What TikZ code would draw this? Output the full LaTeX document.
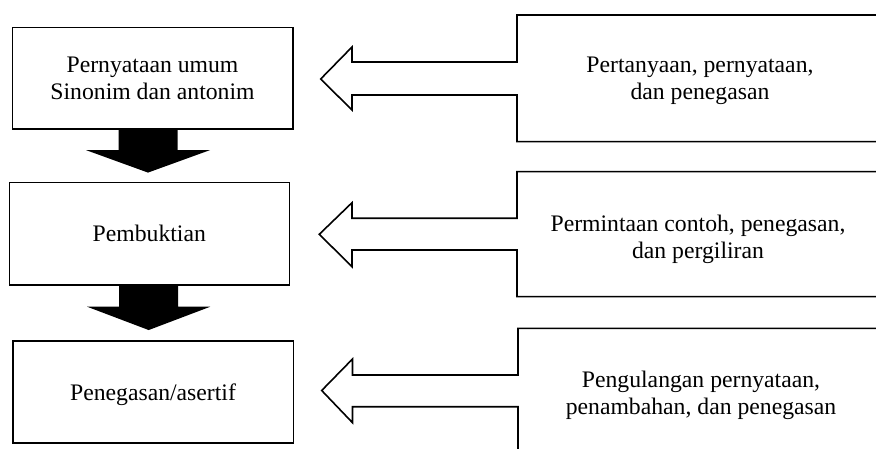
\documentclass[tikz,border=0pt]{standalone}
\usepackage{fontspec}
\setmainfont{Liberation Serif}
\usetikzlibrary{calc}
\begin{document}
\begin{tikzpicture}[x=1pt,y=-1pt,line width=1.6pt,
  txt/.style={font=\fontsize{23.7}{27.3}\selectfont},
  lbox/.style={txt,draw=black,inner sep=0pt,align=center,
    minimum width=280.4pt,minimum height=101.6pt},
  rtext/.style={txt,inner sep=0pt,align=center},
  blockarrow/.style={fill=black,draw=none},
  openarrow/.style={draw=black,line join=miter,fill=none}]
\useasboundingbox (0,0) rectangle (876,449);

% left boxes
\node[lbox] (b1) at (152.5,78.5) {Pernyataan umum\\Sinonim dan antonim};
\node[lbox,minimum width=280pt,minimum height=102.3pt] (b2) at (149.3,233.8) {Pembuktian};
\node[lbox,minimum width=280.6pt,minimum height=102pt,text depth=0pt] (b3) at (153,391.7) {Penegasan/asertif};

% black block arrows between boxes
\coordinate (ax1) at (148,0);
\coordinate (ax2) at (148.7,0);
\fill[blockarrow] (ax1 |- b1.south) ++(-29.5,0) -- ++(0,20) -- ++(-32.5,0)
  -- ++(62,22.5) -- ++(62,-22.5) -- ++(-32.5,0) -- ++(0,-20) -- cycle;
\fill[blockarrow] (ax2 |- b2.south) ++(-29.5,0) -- ++(0,21) -- ++(-32,0)
  -- ++(61.5,23.3) -- ++(61.5,-23.3) -- ++(-32,0) -- ++(0,-21) -- cycle;

% right fused box + open arrow shapes
\draw[openarrow] (880,15) -- (517,15) -- (517,62) -- (352,62) -- (352,47)
  -- (320.7,79) -- (352,110) -- (352,95) -- (517,95) -- (517,141.7) -- (880,141.7);
\draw[openarrow] (880,171.7) -- (517,171.7) -- (517,218.3) -- (352,218.3) -- (352,202.7)
  -- (319.3,234.3) -- (352,266.7) -- (352,250) -- (517,250) -- (517,296.7) -- (880,296.7);
\draw[openarrow] (880,328.3) -- (518,328.3) -- (518,375) -- (352.5,375) -- (352.5,359)
  -- (321.7,390.5) -- (352.5,422.7) -- (352.5,406.7) -- (518,406.7) -- (518,460);

% right texts
\node[rtext] (t1) at (700,81.1) {Pertanyaan, pernyataan,\\dan penegasan};
\node[rtext] (t2) at (698,239) {Permintaan contoh, penegasan,\\dan pergiliran};
\node[rtext] (t3) at (701,395.5) {Pengulangan pernyataan,\\penambahan, dan penegasan};
\end{tikzpicture}
\end{document}
